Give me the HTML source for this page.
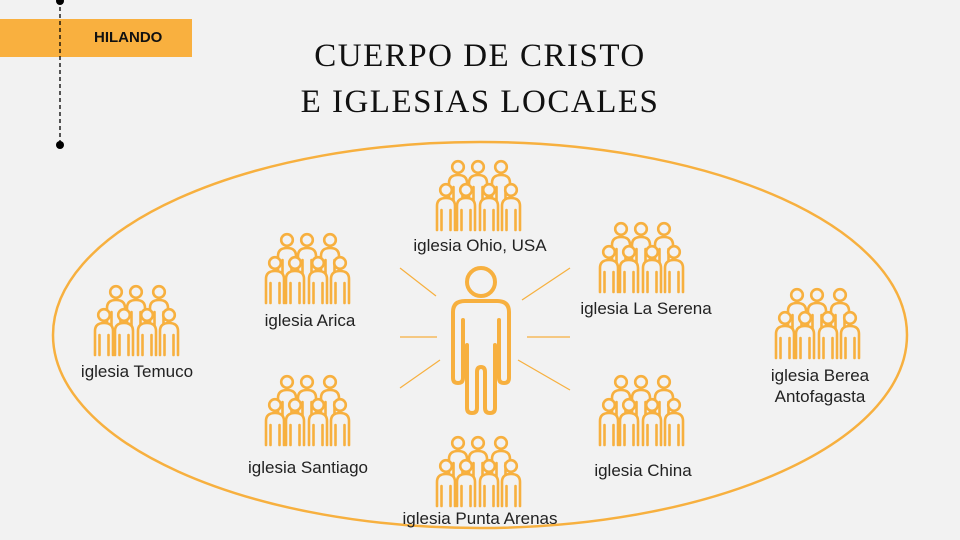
<!DOCTYPE html>
<html><head><meta charset="utf-8"><style>
body{margin:0;background:#f2f2f2;}
.w{position:relative;width:960px;height:540px;overflow:hidden;background:#f2f2f2;font-family:"Liberation Sans",sans-serif;}
.t{position:absolute;font-size:17px;color:#222;white-space:nowrap;text-align:center;}
</style></head><body><div class="w">
<svg width="960" height="540" style="position:absolute;left:0;top:0">
<defs>
<g id="p" stroke="#F7B03F" stroke-width="2.6" stroke-linecap="round" stroke-linejoin="round">
<path fill="#f2f2f2" d="M-9,40 V16 Q-9,8 0,8 Q9,8 9,16 V40"/>
<path fill="none" d="M-4.5,40 V20 M4.5,40 V20"/>
<circle fill="#f2f2f2" cx="0" cy="0" r="5.8"/>
</g>
<g id="g">
<use href="#p" x="21" y="7"/><use href="#p" x="41" y="7"/><use href="#p" x="64" y="7"/>
<use href="#p" x="9" y="30"/><use href="#p" x="29" y="30"/><use href="#p" x="52" y="30"/><use href="#p" x="74" y="30"/>
</g>
</defs>
<rect x="0" y="19" width="192" height="38" fill="#F9B03F"/>
<line x1="60" y1="0" x2="60" y2="145" stroke="#000" stroke-width="1.3" stroke-dasharray="4,3"/>
<circle cx="60" cy="1" r="4"/><circle cx="60" cy="145" r="4"/>
<ellipse cx="480" cy="335" rx="427" ry="193" fill="none" stroke="#F7B03F" stroke-width="2.5"/>
<g stroke="#F7B03F" stroke-width="1.2">
<line x1="400" y1="268" x2="436" y2="296"/><line x1="522" y1="300" x2="570" y2="268"/>
<line x1="400" y1="337" x2="437" y2="337"/><line x1="527" y1="337" x2="570" y2="337"/>
<line x1="400" y1="388" x2="440" y2="360"/><line x1="518" y1="360" x2="570" y2="390"/>
</g>
<g fill="none" stroke="#F7B03F" stroke-width="4" stroke-linecap="round" stroke-linejoin="round">
<circle cx="481" cy="282" r="14"/>
<path d="M463,378 V320 M463,378 Q463,383 458,383 Q453,383 453,378 V312 Q453,301 465,301 H497 Q509,301 509,312 V378 Q509,383 504,383 Q499,383 499,378 V320"/>
<path d="M467,345 V408 Q467,413 472,413 Q477,413 477,408 V372 Q477,367 481,367 Q485,367 485,372 V408 Q485,413 490,413 Q495,413 495,408 V345"/>
</g>
<use href="#g" x="437" y="160"/>
<use href="#g" x="266" y="233"/>
<use href="#g" x="600" y="222"/>
<use href="#g" x="95" y="285"/>
<use href="#g" x="776" y="288"/>
<use href="#g" x="266" y="375"/>
<use href="#g" x="600" y="375"/>
<use href="#g" x="437" y="436"/>
</svg>
<div style="position:absolute;left:94px;top:29px;font-weight:bold;font-size:15px;color:#111">HILANDO</div>
<div style="position:absolute;left:250px;width:460px;top:33px;text-align:center;font-family:'Liberation Serif',serif;font-size:33px;line-height:46px;letter-spacing:1.5px;color:#111">CUERPO DE CRISTO<br>E IGLESIAS LOCALES</div>
<div class="t" style="left:380px;width:200px;top:236px">iglesia Ohio, USA</div>
<div class="t" style="left:210px;width:200px;top:311px">iglesia Arica</div>
<div class="t" style="left:546px;width:200px;top:299px">iglesia La Serena</div>
<div class="t" style="left:37px;width:200px;top:362px">iglesia Temuco</div>
<div class="t" style="left:720px;width:200px;top:365px;line-height:21px">iglesia Berea<br>Antofagasta</div>
<div class="t" style="left:208px;width:200px;top:458px">iglesia Santiago</div>
<div class="t" style="left:543px;width:200px;top:461px">iglesia China</div>
<div class="t" style="left:380px;width:200px;top:509px">iglesia Punta Arenas</div>
</div></body></html>
